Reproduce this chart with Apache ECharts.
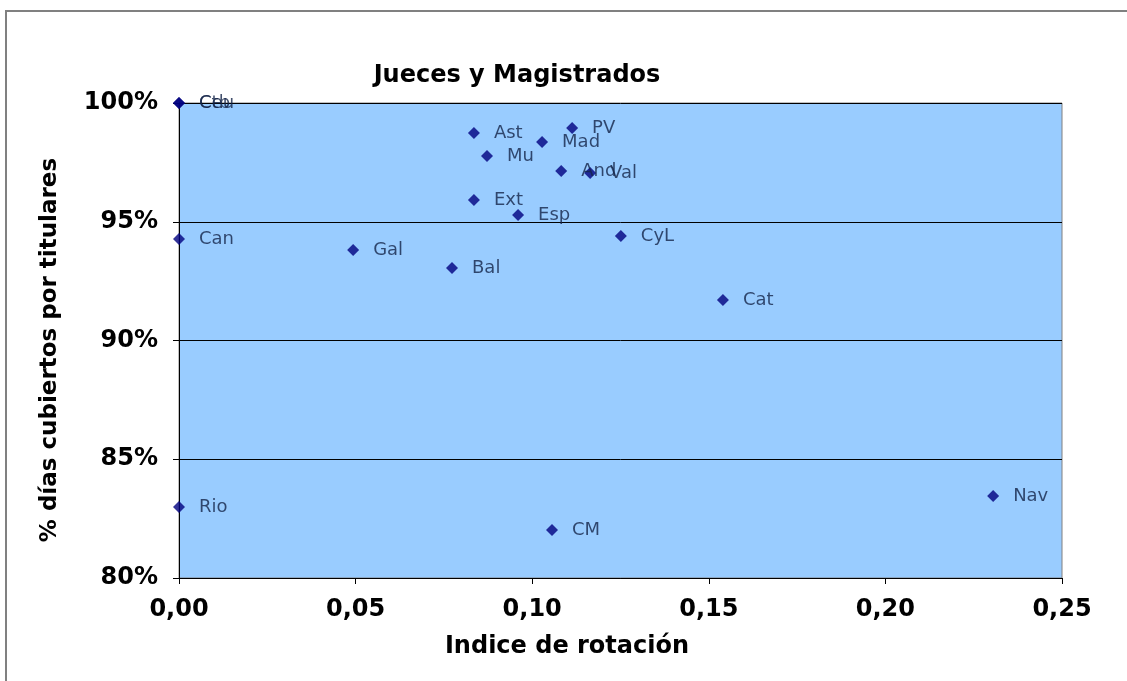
<!DOCTYPE html>
<html>
<head>
<meta charset="utf-8">
<script src="https://cdn.jsdelivr.net/npm/echarts@6/dist/echarts.min.js"></script>
<style>html,body{margin:0;padding:0;background:#fff;}#c{width:1127px;height:681px;}</style>
</head>
<body>
<div id="c"></div>
<script>
const names = ["Ceu","Ctb","Ast","PV","Mad","Mu","And","Val","Ext","Esp","CyL","Can","Gal","Bal","Cat","Nav","Rio","CM"];
const rotation = [0.000,0.000,0.0835,0.1113,0.1028,0.0872,0.1082,0.1164,0.0835,0.0960,0.1251,0.000,0.0493,0.0773,0.1540,0.2305,0.000,0.1056];
const coverage = [100.0,100.0,98.74,98.95,98.36,97.77,97.14,97.05,95.92,95.28,94.40,94.27,93.81,93.05,91.71,83.45,82.99,82.02];
const xTicks = [0,0.05,0.10,0.15,0.20,0.25];
const yTicks = [80,85,90,95,100];
const titleText = 'Jueces y Magistrados';
const xName = 'Indice de rotación';
const yName = '% días cubiertos por titulares';

const data = names.map((n,i)=>({name:n,value:[rotation[i],coverage[i]]}));
const FONT = '"DejaVu Sans", Verdana, sans-serif';
const chart = echarts.init(document.getElementById('c'));
chart.setOption({
  animation:false,
  backgroundColor:'#ffffff',
  graphic:[
    {type:'rect',shape:{x:6,y:11,width:1300,height:900},style:{fill:'none',stroke:'#808080',lineWidth:2},z:-10},
    {type:'text',x:517,y:76,style:{text:titleText,textAlign:'center',textVerticalAlign:'middle',font:'bold 24px '+FONT,fill:'#000'}},
    {type:'text',x:567,y:647,style:{text:xName,textAlign:'center',textVerticalAlign:'middle',font:'bold 24px '+FONT,fill:'#000'}},
    {type:'text',x:50,y:350,rotation:Math.PI/2,style:{text:yName,textAlign:'center',textVerticalAlign:'middle',font:'bold 23px '+FONT,fill:'#000'}}
  ],
  grid:{left:179,right:65,top:103,bottom:103,show:true,backgroundColor:'#99CCFF',borderColor:'#808080',borderWidth:1},
  xAxis:{type:'value',min:0,max:0.25,interval:0.05,
    axisLine:{show:true,lineStyle:{color:'#000',width:1}},
    axisTick:{show:true,length:6,lineStyle:{color:'#000'}},
    splitLine:{show:false},
    axisLabel:{margin:20,fontFamily:FONT,fontSize:24,fontWeight:'bold',color:'#000',
      formatter:v=>v.toFixed(2).replace('.',',')}},
  yAxis:{type:'value',min:80,max:100,interval:5,
    axisLine:{show:true,lineStyle:{color:'#000',width:1}},
    axisTick:{show:true,length:6,lineStyle:{color:'#000'}},
    splitLine:{show:true,lineStyle:{color:'#000',width:1}},
    axisLabel:{margin:21,fontFamily:FONT,fontSize:24,fontWeight:'bold',color:'#000',formatter:'{value}%'}},
  series:[{type:'scatter',data:data,symbol:'diamond',symbolSize:12,
    itemStyle:{color:'#000080'},
    label:{show:true,position:'right',distance:14,formatter:p=>p.name,
      fontFamily:FONT,fontSize:18,color:'#142448'},
    z:5}]
});
</script>
</body>
</html>
